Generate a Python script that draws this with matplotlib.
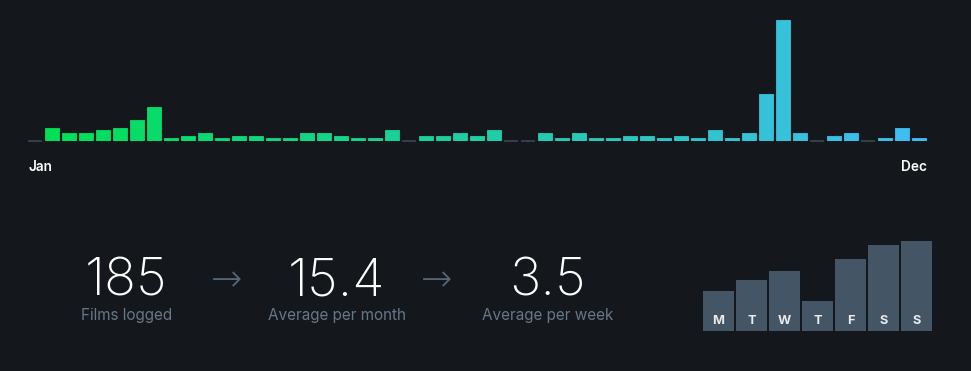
import numpy as np
import matplotlib
matplotlib.use("Agg")
import matplotlib.pyplot as plt
from matplotlib.colors import to_rgb

# ---- data ----
weekly_films = [0, 5, 3, 3, 4, 5, 8, 13, 1, 2,
                3, 1, 2, 2, 1, 1, 3, 3, 2, 1,
                1, 4, 0, 2, 2, 3, 2, 4, 0, 0,
                3, 1, 3, 1, 1, 2, 2, 1, 2, 1,
                4, 1, 3, 18, 46, 3, 0, 2, 3, 0,
                1, 5, 1]
month_labels = ["Jan", "Dec"]

stat_values = ["185", "15.4", "3.5"]
stat_labels = ["Films logged", "Average per month", "Average per week"]

weekday_letters = ["M", "T", "W", "T", "F", "S", "S"]
weekday_films = [17, 22, 26, 13, 31, 37, 39]

# ---- styles ----
BG = "#14181c"
GREEN = "#00e054"
BLUE = "#40bcf4"
W, H = 971, 371

plt.rcParams["font.family"] = ["Inter", "DejaVu Sans"]

fig = plt.figure(figsize=(W / 100, H / 100), dpi=100, facecolor=BG)


def px_axes(left, top, right, bottom):
    # axes from pixel box (origin top-left)
    return fig.add_axes([left / W, (H - bottom) / H, (right - left) / W, (bottom - top) / H])


# ---- weekly bars ----
ax = px_axes(26.5, 20, 927.5, 141)
ax.set_facecolor(BG)
n = len(weekly_films)
x = np.arange(n)
c0, c1 = np.array(to_rgb(GREEN)), np.array(to_rgb(BLUE))
colors = [tuple(c0 + (c1 - c0) * i / (n - 1)) for i in range(n)]
vals = np.array(weekly_films)
ax.bar(x, vals, width=0.84, color=colors, edgecolor=colors, linewidth=0.6,
       joinstyle="round")
zero = x[vals == 0]
ax.hlines(np.zeros(len(zero)), zero - 0.44, zero + 0.44, color="#3b4654",
          lw=1.2, clip_on=False)
ax.set_xlim(-0.5, n - 0.5)
ax.set_ylim(0, max(weekly_films))
ax.axis("off")

fig.text(28 / W, (H - 171) / H, month_labels[0], color="white", fontsize=9.8,
         fontweight="semibold", ha="left", va="baseline")
fig.text(927 / W, (H - 171) / H, month_labels[1], color="white", fontsize=9.8,
         fontweight="semibold", ha="right", va="baseline")

# ---- stats row ----
centers = [126.5, 336.5, 547.5]
for cx, v, lab in zip(centers, stat_values, stat_labels):
    fig.text(cx / W, (H - 295) / H, v, color="white", fontsize=38,
             fontweight="light", ha="center", va="baseline")
    fig.text(cx / W, (H - 320) / H, lab, color="#678", fontsize=11,
             ha="center", va="baseline")
for ax_x in [227, 437]:
    fig.text(ax_x / W, (H - 281) / H, "\u2192", color="#556677", fontsize=27,
             fontweight="light", ha="center", va="center",
             family=["DejaVu Sans"])

# ---- weekday bars ----
ax2 = px_axes(702, 330.5 - 89.7, 933, 330.5)
ax2.set_facecolor(BG)
ax2.bar(np.arange(7), weekday_films, width=0.94, color="#445566")
for i, letter in enumerate(weekday_letters):
    ax2.text(i, 0.07, letter, transform=ax2.get_xaxis_transform(),
             color="#e8ecef", fontsize=9.2, fontweight="bold",
             ha="center", va="baseline")
ax2.set_xlim(-0.5, 6.5)
ax2.set_ylim(0, max(weekday_films))
ax2.axis("off")

fig.savefig("out.png", dpi=100, facecolor=BG)
